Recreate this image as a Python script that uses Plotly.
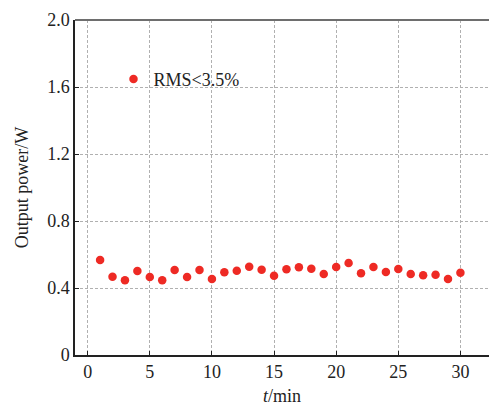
import plotly.graph_objects as go

t_min = list(range(1, 31))
power_w = [0.567, 0.467, 0.446, 0.501, 0.466, 0.446, 0.507, 0.466, 0.507, 0.454,
           0.494, 0.503, 0.527, 0.509, 0.473, 0.512, 0.524, 0.515, 0.484, 0.525,
           0.549, 0.488, 0.525, 0.496, 0.513, 0.484, 0.476, 0.479, 0.454, 0.491]
x_ticks = [0, 5, 10, 15, 20, 25, 30]
y_ticks = [0, 0.4, 0.8, 1.2, 1.6, 2.0]
y_tick_labels = ["0", "0.4", "0.8", "1.2", "1.6", "2.0"]

FONT = "Liberation Serif"

fig = go.Figure()
fig.add_trace(go.Scatter(
    x=t_min, y=power_w, mode="markers", name="RMS<3.5%",
    marker=dict(color="#ee2a24", size=8.5, line=dict(width=0)),
))

fig.update_layout(
    width=489, height=406,
    margin=dict(l=75, r=0, t=20, b=51),
    paper_bgcolor="white", plot_bgcolor="white",
    font=dict(family=FONT, size=18, color="#222"),
    showlegend=True,
    legend=dict(x=0.093, y=0.823, xanchor="left", yanchor="middle",
                bgcolor="rgba(0,0,0,0)", borderwidth=0,
                font=dict(family=FONT, size=18, color="#222"),
                itemwidth=30),
    xaxis=dict(
        range=[-1.02, 32.3], tickvals=x_ticks, ticks="inside", ticklen=4,
        tickcolor="#222", showline=True, linecolor="#222", linewidth=1.5,
        showgrid=True, gridcolor="#b0b0b0", gridwidth=1, griddash="3px,2px",
        zeroline=False, tickfont=dict(family=FONT, size=18),
        title=dict(text="<i>t</i>/min", font=dict(family=FONT, size=18), standoff=8),
    ),
    yaxis=dict(
        range=[0, 2.0], tickvals=y_ticks, ticktext=y_tick_labels, ticks="inside",
        ticklen=4, tickcolor="#222", showline=True, linecolor="#222", linewidth=1.5,
        showgrid=True, gridcolor="#b0b0b0", gridwidth=1, griddash="3px,2px",
        zeroline=False, tickfont=dict(family=FONT, size=18),
        title=dict(text="Output power/W", font=dict(family=FONT, size=18), standoff=14),
    ),
    shapes=[dict(type="line", xref="paper", yref="paper", x0=0, x1=1, y0=1, y1=1,
                 line=dict(color="#6e6e6e", width=2))],
)

fig.write_html("out.html")
